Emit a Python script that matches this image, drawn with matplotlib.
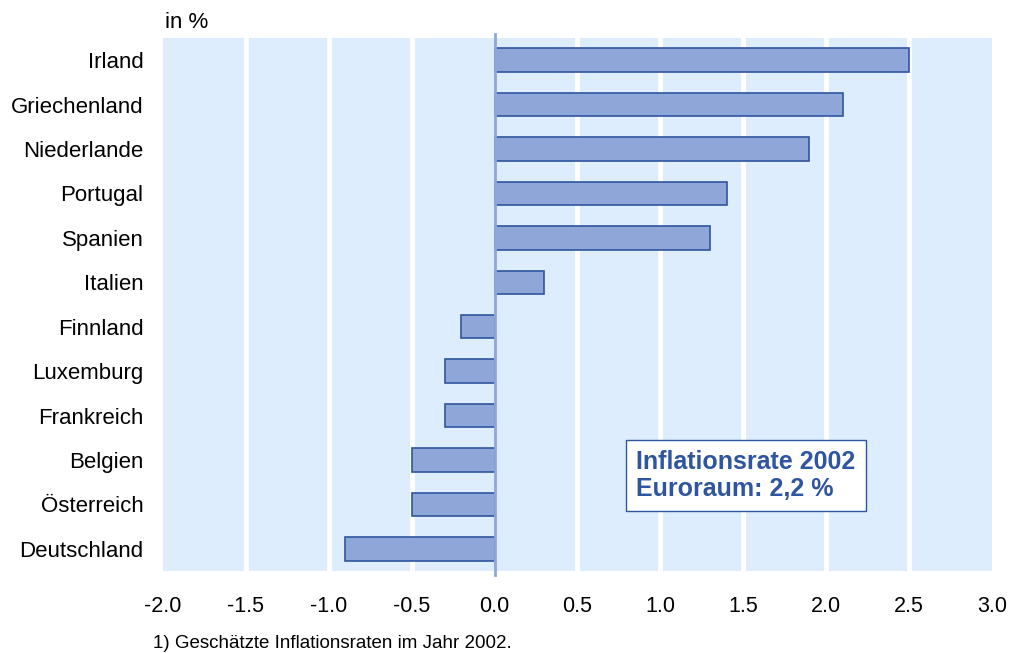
import matplotlib
matplotlib.use("Agg")
import matplotlib.pyplot as plt

plt.rcParams["font.family"] = ["Liberation Sans", "DejaVu Sans"]

countries = ["Irland", "Griechenland", "Niederlande", "Portugal", "Spanien", "Italien",
             "Finnland", "Luxemburg", "Frankreich", "Belgien", "Österreich", "Deutschland"]
values = [2.5, 2.1, 1.9, 1.4, 1.3, 0.3, -0.2, -0.3, -0.3, -0.5, -0.5, -0.9]
xticks = [-2.0, -1.5, -1.0, -0.5, 0.0, 0.5, 1.0, 1.5, 2.0, 2.5, 3.0]

fig = plt.figure(figsize=(10.1, 6.53), dpi=100)
ax = fig.add_axes([0.1614, 0.1256, 0.8206, 0.8162])
ax.set_facecolor("#DDEDFD")

ypos = list(range(len(countries)))[::-1]
ax.barh(ypos, values, height=0.53, color="#8FA7D8", edgecolor="#2F55A0", linewidth=1.2, zorder=3)

# white gridlines
for x in xticks[1:-1]:
    if x != 0:
        ax.axvline(x, color="white", linewidth=3.5, zorder=1)
ax.plot([0, 0], [-0.6, 11.58], color="#8FA7D8", linewidth=2, zorder=4, clip_on=False)

ax.set_xlim(-2, 3)
ax.set_ylim(-0.5, 11.5)
ax.set_xticks(xticks)
ax.set_xticklabels([f"{x:.1f}" for x in xticks], fontsize=15.5)
ax.set_yticks(ypos)
ax.set_yticklabels(countries, fontsize=16)
ax.tick_params(length=0, pad=18, axis="x")
ax.tick_params(length=0, pad=14, axis="y")
for s in ax.spines.values():
    s.set_visible(False)

fig.text(0.163, 0.965, "in %", fontsize=16, ha="left", va="center")
fig.text(0.151, 0.014, "1) Geschätzte Inflationsraten im Jahr 2002.", fontsize=13.5, ha="left", va="center")

ax.text(0.571, 0.179, "Inflationsrate 2002\nEuroraum: 2,2 %", transform=ax.transAxes,
        fontsize=18, fontweight="bold", color="#2F55A0", ha="left", va="center",
        linespacing=1.12, zorder=5,
        bbox=dict(boxstyle="square,pad=0.42", facecolor="white", edgecolor="#2F55A0", linewidth=1))

fig.savefig("out.png", dpi=100)
